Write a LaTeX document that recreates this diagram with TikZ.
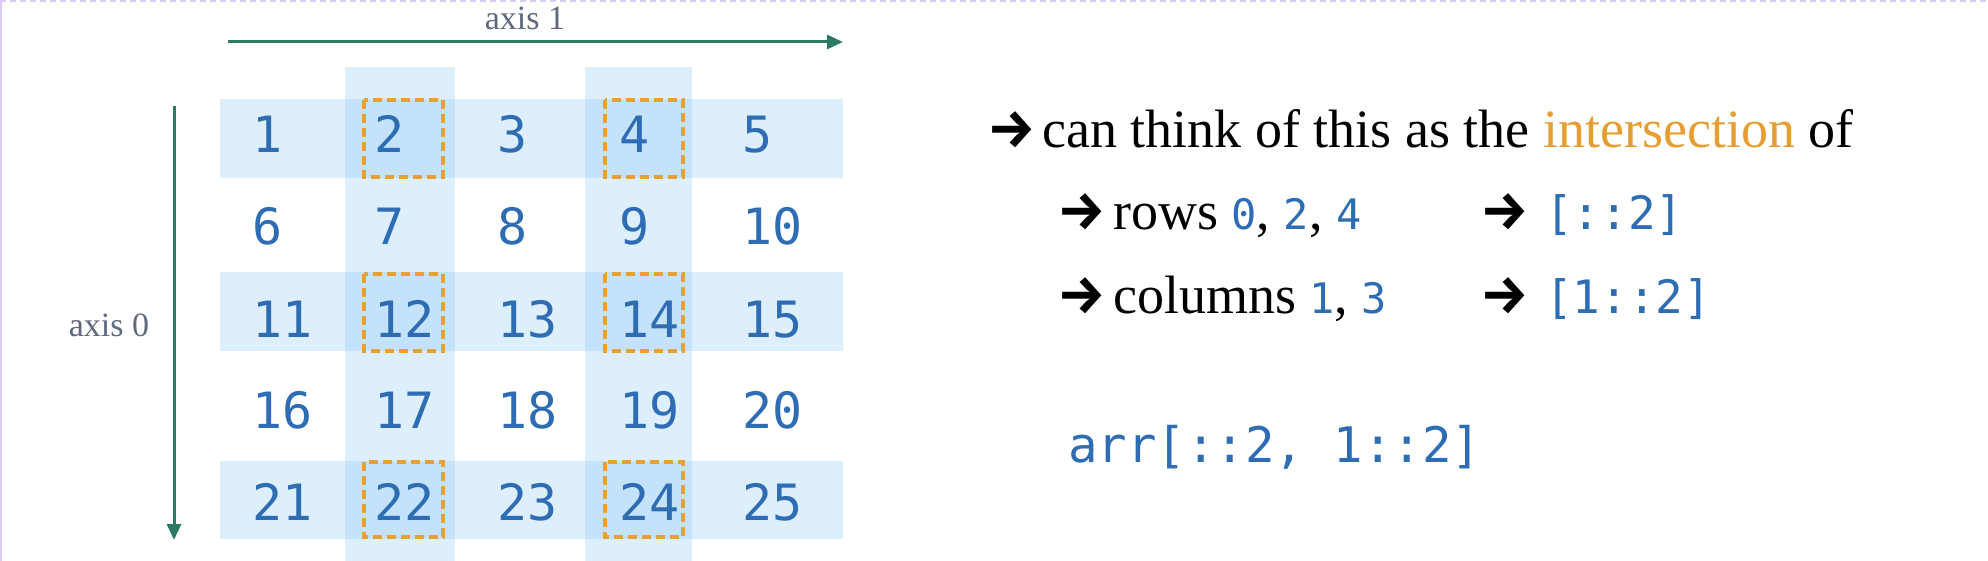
\documentclass[tikz,border=0pt]{standalone}
\usepackage{fontspec}
\setmainfont{Liberation Serif}
\newfontfamily\monof{DejaVu Sans Mono}
\newfontfamily\arrowf{Fira Sans}
\usetikzlibrary{arrows.meta}
\definecolor{numblue}{RGB}{46,108,180}
\definecolor{bandblue}{RGB}{119,189,243}
\definecolor{dashorange}{RGB}{232,160,48}
\definecolor{axisteal}{RGB}{44,122,100}
\definecolor{axisgray}{RGB}{95,105,125}
\definecolor{lav}{RGB}{218,205,240}
\definecolor{interorange}{RGB}{230,158,50}
\tikzset{
  band/.style={fill=bandblue, fill opacity=0.242, draw=none},
  selbox/.style={draw=dashorange, line width=3.2pt, dash pattern=on 9pt off 5pt},
  cell/.style={anchor=base west, inner sep=0pt, text=numblue, font=\monof\fontsize{50}{60}\selectfont},
  axisline/.style={draw=axisteal, line width=3pt, -{Triangle[length=16pt,width=14pt]}},
  axislabel/.style={inner sep=0pt, text=axisgray, font=\fontsize{34}{40}\selectfont},
  txt/.style={anchor=base west, inner sep=0pt, font=\fontsize{54}{64}\selectfont},
  arr/.style={anchor=base west, inner sep=0pt, font=\arrowf\bfseries\fontsize{54}{64}\selectfont},
  code/.style={anchor=base west, inner sep=0pt, text=numblue, font=\monof\fontsize{46}{56}\selectfont}
}
\newcommand{\bd}[1]{{\color{numblue}\monof\fontsize{42}{48}\selectfont #1}}
\begin{document}
\begin{tikzpicture}[x=1pt,y=-1pt]
\path[use as bounding box, fill=white] (0,0) rectangle (1988,561);
\draw[lav, line width=2pt, dash pattern=on 6pt off 4pt] (0,1) -- (1988,1);
\draw[lav, line width=1.5pt] (1,0) -- (1,561);
% bands
\path[band] (220,99) rectangle (843,178);
\path[band] (220,272) rectangle (843,351);
\path[band] (220,461) rectangle (843,539);
\path[band] (345,67) rectangle (455,561);
\path[band] (585,67) rectangle (692,561);
% numbers
\foreach \r/\yb in {0/153,1/245,2/337,3/428,4/520}{
  \foreach \c in {0,...,4}{
    \pgfmathtruncatemacro{\k}{5*\r+\c+1}
    \node[cell] (n\k) at ({252+122.5*\c},\yb) {\k};
  }
}
% selection boxes
\draw[selbox] (364,100) rectangle (443,177);
\draw[selbox] (605,100) rectangle (683,177);
\draw[selbox] (364,274) rectangle (443,351);
\draw[selbox] (605,274) rectangle (683,351);
\draw[selbox] (364,462) rectangle (443,537);
\draw[selbox] (605,462) rectangle (683,537);
% axes
\coordinate (a1s) at (228,42);
\coordinate (a1e) at (843,42);
\coordinate (a0s) at (174,106);
\coordinate (a0e) at (174,540);
\draw[axisline] (a1s) -- (a1e);
\draw[axisline] (a0s) -- (a0e);
\node[axislabel] (ax1) at (525,18) {axis 1};
\node[axislabel] (ax0) at (109,325) {axis 0};
% right text
\node[arr] (r1a) at (987,148) {→};
\node[txt] (r1t) at (1042,148) {can think of this as the {\color{interorange}intersection} of};
\node[arr] (r2a) at (1057,230) {→};
\node[txt] (r2t) at (1113,230) {rows \bd{0}, \bd{2}, \bd{4}};
\node[arr] (r2b) at (1480,230) {→};
\node[code] (r2c) at (1545,230) {[::2]};
\node[arr] (r3a) at (1057,313) {→};
\node[txt] (r3t) at (1113,313) {columns \bd{1}, \bd{3}};
\node[arr] (r3b) at (1480,313) {→};
\node[code] (r3c) at (1545,313) {[1::2]};
\node[anchor=base west, inner sep=0pt, text=numblue, font=\monof\fontsize{49}{58}\selectfont] (expr) at (1068,462) {arr[::2, 1::2]};
\end{tikzpicture}
\end{document}
